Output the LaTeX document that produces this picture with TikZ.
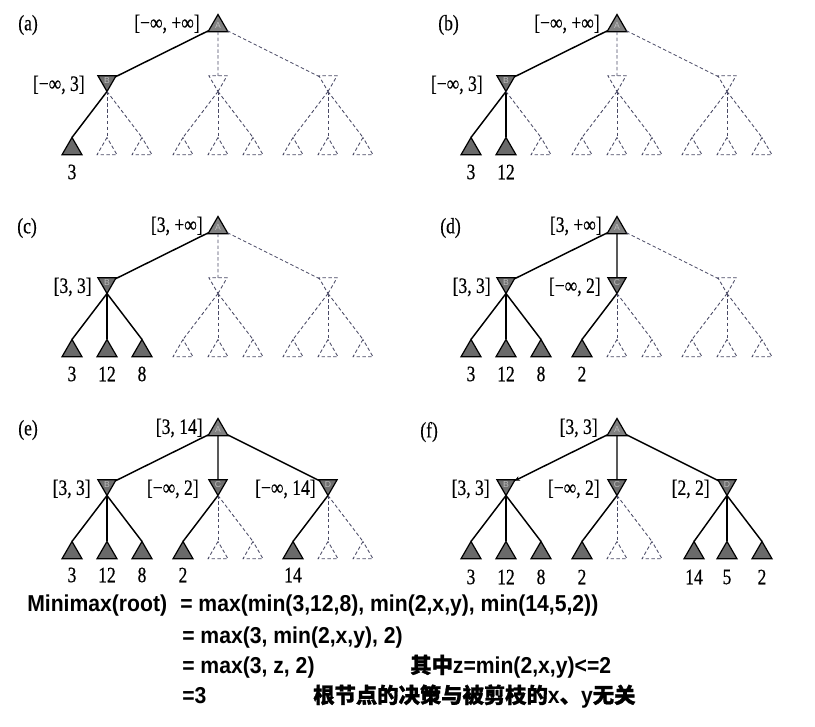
\documentclass[tikz,border=0pt]{standalone}
\usepackage{fontspec}
\setmainfont{Liberation Serif}[FakeStretch=0.8, FakeBold=0.4]
\newfontfamily\formfont{Liberation Sans}[FakeStretch=0.92]
\newfontfamily\cjkfont{Noto Sans CJK SC}[FakeBold=1.2]
\newfontfamily\letterfont{Liberation Sans}
\usetikzlibrary{shapes.geometric,arrows.meta}
\definecolor{nodegray}{HTML}{808080}
\definecolor{cgray}{HTML}{6E6E6E}
\definecolor{leafgray}{HTML}{6A6A6A}
\definecolor{dashcol}{HTML}{4A4A66}
\definecolor{lettercol}{HTML}{BDBDBD}
\newcommand\lblfont{\fontsize{16.5pt}{17pt}\selectfont}
\newcommand\eqfont{\formfont\bfseries\fontsize{17.25pt}{18pt}\selectfont}
\newcommand\cj[1]{{\cjkfont\fontsize{16pt}{18pt}\selectfont #1}}
\tikzset{
  tri/.style={regular polygon, regular polygon sides=3, inner sep=0pt, outer sep=0pt,
    minimum size=17.3pt, line width=0.9pt, draw=black,
    font=\letterfont\fontsize{6.5pt}{6.5pt}\selectfont, text=lettercol},
  maxn/.style={tri, fill=nodegray},
  minn/.style={tri, minimum size=15.75pt, shape border rotate=180, fill=cgray},
  leafn/.style={tri, fill=leafgray},
  dmin/.style={tri, minimum size=15.75pt, shape border rotate=180, draw=dashcol,
    line width=0.65pt, dash pattern=on 2.6pt off 1.8pt, fill=none},
  dleaf/.style={tri, draw=dashcol, line width=0.65pt, dash pattern=on 2.6pt off 1.8pt, fill=none},
  sol/.style={line width=1.1pt, draw=black},
  dsh/.style={line width=0.65pt, draw=dashcol, dash pattern=on 2.6pt off 1.8pt},
  lbl/.style={font=\lblfont, inner sep=0pt, text=black},
  eq/.style={font=\eqfont, inner sep=0pt, anchor=base west, text=black},
}
\begin{document}
\begin{tikzpicture}[x=0.75pt,y=-0.75pt]
\path[use as bounding box, fill=white] (0,0) rectangle (815,726);

% ---------- panel labels
\node[lbl, anchor=west] (pa) at (18,25) {(a)};
\node[lbl, anchor=west] (pb) at (438,25) {(b)};
\node[lbl, anchor=west] (pc) at (17,228) {(c)};
\node[lbl, anchor=west] (pd) at (440,228) {(d)};
\node[lbl, anchor=west] (pe) at (18,430) {(e)};
\node[lbl, anchor=west] (pf) at (420,432) {(f)};

% ---------- (a)
\begin{scope}[shift={(218,26)}]
\node[maxn] (aA) at (0,0) {A};
\node[lbl, anchor=east] (aAl) at (-18,-2) {[−∞, +∞]};
\node[minn] (aB) at (-111,55) {B};
\node[lbl, anchor=east] (aBl) at (-133,59) {[−∞, 3]};
\node[dmin] (aC) at (0,55) {};
\node[dmin] (aD) at (110,55) {};
\node[leafn] (aB1) at (-146,123) {};
\node[dleaf] (aB2) at (-111,123) {};
\node[dleaf] (aB3) at (-76,123) {};
\node[dleaf] (aC1) at (-35,123) {};
\node[dleaf] (aC2) at (0,123) {};
\node[dleaf] (aC3) at (35,123) {};
\node[dleaf] (aD1) at (75,123) {};
\node[dleaf] (aD2) at (110,123) {};
\node[dleaf] (aD3) at (145,123) {};
\node[lbl] (aB1v) at (-146,146) {3};
\draw[sol] (aA) -- (aB);
\draw[dsh] (aA) -- (aC);
\draw[dsh] (aA) -- (aD);
\draw[sol] (aB.corner 1) -- (aB1.corner 1);
\draw[dsh] (aB.corner 1) -- (aB2.corner 1);
\draw[dsh] (aB.corner 1) -- (aB3.corner 1);
\draw[dsh] (aC.corner 1) -- (aC1.corner 1);
\draw[dsh] (aC.corner 1) -- (aC2.corner 1);
\draw[dsh] (aC.corner 1) -- (aC3.corner 1);
\draw[dsh] (aD.corner 1) -- (aD1.corner 1);
\draw[dsh] (aD.corner 1) -- (aD2.corner 1);
\draw[dsh] (aD.corner 1) -- (aD3.corner 1);
\end{scope}

% ---------- (b)
\begin{scope}[shift={(617,26)}]
\node[maxn] (bA) at (0,0) {A};
\node[lbl, anchor=east] (bAl) at (-17,-2) {[−∞, +∞]};
\node[minn] (bB) at (-111,55) {B};
\node[lbl, anchor=east] (bBl) at (-134,59) {[−∞, 3]};
\node[dmin] (bC) at (0,55) {};
\node[dmin] (bD) at (110,55) {};
\node[leafn] (bB1) at (-146,123) {};
\node[leafn] (bB2) at (-111,123) {};
\node[dleaf] (bB3) at (-76,123) {};
\node[dleaf] (bC1) at (-35,123) {};
\node[dleaf] (bC2) at (0,123) {};
\node[dleaf] (bC3) at (35,123) {};
\node[dleaf] (bD1) at (75,123) {};
\node[dleaf] (bD2) at (110,123) {};
\node[dleaf] (bD3) at (145,123) {};
\node[lbl] (bB1v) at (-146,146) {3};
\node[lbl] (bB2v) at (-111,146) {12};
\draw[sol] (bA) -- (bB);
\draw[dsh] (bA) -- (bC);
\draw[dsh] (bA) -- (bD);
\draw[sol] (bB.corner 1) -- (bB1.corner 1);
\draw[sol] (bB.corner 1) -- (bB2.corner 1);
\draw[dsh] (bB.corner 1) -- (bB3.corner 1);
\draw[dsh] (bC.corner 1) -- (bC1.corner 1);
\draw[dsh] (bC.corner 1) -- (bC2.corner 1);
\draw[dsh] (bC.corner 1) -- (bC3.corner 1);
\draw[dsh] (bD.corner 1) -- (bD1.corner 1);
\draw[dsh] (bD.corner 1) -- (bD2.corner 1);
\draw[dsh] (bD.corner 1) -- (bD3.corner 1);
\end{scope}

% ---------- (c)
\begin{scope}[shift={(218,228)}]
\node[maxn] (cA) at (0,0) {A};
\node[lbl, anchor=east] (cAl) at (-15,-2) {[3, +∞]};
\node[minn] (cB) at (-111,55) {B};
\node[lbl, anchor=east] (cBl) at (-126,59) {[3, 3]};
\node[dmin] (cC) at (0,55) {};
\node[dmin] (cD) at (110,55) {};
\node[leafn] (cB1) at (-146,123) {};
\node[leafn] (cB2) at (-111,123) {};
\node[leafn] (cB3) at (-76,123) {};
\node[dleaf] (cC1) at (-35,123) {};
\node[dleaf] (cC2) at (0,123) {};
\node[dleaf] (cC3) at (35,123) {};
\node[dleaf] (cD1) at (75,123) {};
\node[dleaf] (cD2) at (110,123) {};
\node[dleaf] (cD3) at (145,123) {};
\node[lbl] (cB1v) at (-146,146) {3};
\node[lbl] (cB2v) at (-111,146) {12};
\node[lbl] (cB3v) at (-76,146) {8};
\draw[sol] (cA) -- (cB);
\draw[dsh] (cA) -- (cC);
\draw[dsh] (cA) -- (cD);
\draw[sol] (cB.corner 1) -- (cB1.corner 1);
\draw[sol] (cB.corner 1) -- (cB2.corner 1);
\draw[sol] (cB.corner 1) -- (cB3.corner 1);
\draw[dsh] (cC.corner 1) -- (cC1.corner 1);
\draw[dsh] (cC.corner 1) -- (cC2.corner 1);
\draw[dsh] (cC.corner 1) -- (cC3.corner 1);
\draw[dsh] (cD.corner 1) -- (cD1.corner 1);
\draw[dsh] (cD.corner 1) -- (cD2.corner 1);
\draw[dsh] (cD.corner 1) -- (cD3.corner 1);
\end{scope}

% ---------- (d)
\begin{scope}[shift={(617,228)}]
\node[maxn] (dA) at (0,0) {A};
\node[lbl, anchor=east] (dAl) at (-15,-2) {[3, +∞]};
\node[minn] (dB) at (-111,55) {B};
\node[lbl, anchor=east] (dBl) at (-126,59) {[3, 3]};
\node[minn] (dC) at (0,55) {C};
\node[lbl, anchor=east] (dCl) at (-16,59) {[−∞, 2]};
\node[dmin] (dD) at (110,55) {};
\node[leafn] (dB1) at (-146,123) {};
\node[leafn] (dB2) at (-111,123) {};
\node[leafn] (dB3) at (-76,123) {};
\node[leafn] (dC1) at (-35,123) {};
\node[dleaf] (dC2) at (0,123) {};
\node[dleaf] (dC3) at (35,123) {};
\node[dleaf] (dD1) at (75,123) {};
\node[dleaf] (dD2) at (110,123) {};
\node[dleaf] (dD3) at (145,123) {};
\node[lbl] (dB1v) at (-146,146) {3};
\node[lbl] (dB2v) at (-111,146) {12};
\node[lbl] (dB3v) at (-76,146) {8};
\node[lbl] (dC1v) at (-35,146) {2};
\draw[sol] (dA) -- (dB);
\draw[sol] (dA) -- (dC);
\draw[dsh] (dA) -- (dD);
\draw[sol] (dB.corner 1) -- (dB1.corner 1);
\draw[sol] (dB.corner 1) -- (dB2.corner 1);
\draw[sol] (dB.corner 1) -- (dB3.corner 1);
\draw[sol] (dC.corner 1) -- (dC1.corner 1);
\draw[dsh] (dC.corner 1) -- (dC2.corner 1);
\draw[dsh] (dC.corner 1) -- (dC3.corner 1);
\draw[dsh] (dD.corner 1) -- (dD1.corner 1);
\draw[dsh] (dD.corner 1) -- (dD2.corner 1);
\draw[dsh] (dD.corner 1) -- (dD3.corner 1);
\end{scope}

% ---------- (e)
\begin{scope}[shift={(218,430)}]
\node[maxn] (eA) at (0,0) {A};
\node[lbl, anchor=east] (eAl) at (-15,-2) {[3, 14]};
\node[minn] (eB) at (-111,55) {B};
\node[lbl, anchor=east] (eBl) at (-127,59) {[3, 3]};
\node[minn] (eC) at (0,55) {C};
\node[lbl, anchor=east] (eCl) at (-19,59) {[−∞, 2]};
\node[minn] (eD) at (110,55) {D};
\node[lbl, anchor=east] (eDl) at (98,59) {[−∞, 14]};
\node[leafn] (eB1) at (-146,123) {};
\node[leafn] (eB2) at (-111,123) {};
\node[leafn] (eB3) at (-76,123) {};
\node[leafn] (eC1) at (-35,123) {};
\node[dleaf] (eC2) at (0,123) {};
\node[dleaf] (eC3) at (35,123) {};
\node[leafn] (eD1) at (75,123) {};
\node[dleaf] (eD2) at (110,123) {};
\node[dleaf] (eD3) at (145,123) {};
\node[lbl] (eB1v) at (-146,145) {3};
\node[lbl] (eB2v) at (-111,145) {12};
\node[lbl] (eB3v) at (-76,145) {8};
\node[lbl] (eC1v) at (-35,145) {2};
\node[lbl] (eD1v) at (75,145) {14};
\draw[sol] (eA) -- (eB);
\draw[sol] (eA) -- (eC);
\draw[sol] (eA) -- (eD);
\draw[sol] (eB.corner 1) -- (eB1.corner 1);
\draw[sol] (eB.corner 1) -- (eB2.corner 1);
\draw[sol] (eB.corner 1) -- (eB3.corner 1);
\draw[sol] (eC.corner 1) -- (eC1.corner 1);
\draw[dsh] (eC.corner 1) -- (eC2.corner 1);
\draw[dsh] (eC.corner 1) -- (eC3.corner 1);
\draw[sol] (eD.corner 1) -- (eD1.corner 1);
\draw[dsh] (eD.corner 1) -- (eD2.corner 1);
\draw[dsh] (eD.corner 1) -- (eD3.corner 1);
\end{scope}

% ---------- (f)
\begin{scope}[shift={(617,430)}]
\node[maxn] (fA) at (0,0) {A};
\node[lbl, anchor=east] (fAl) at (-19,-2) {[3, 3]};
\node[minn] (fB) at (-111,55) {B};
\node[lbl, anchor=east] (fBl) at (-127,59) {[3, 3]};
\node[minn] (fC) at (0,55) {C};
\node[lbl, anchor=east] (fCl) at (-17,59) {[−∞, 2]};
\node[minn] (fD) at (110,55) {D};
\node[lbl, anchor=east] (fDl) at (93,59) {[2, 2]};
\node[leafn] (fB1) at (-146,123) {};
\node[leafn] (fB2) at (-111,123) {};
\node[leafn] (fB3) at (-76,123) {};
\node[leafn] (fC1) at (-35,123) {};
\node[dleaf] (fC2) at (0,123) {};
\node[dleaf] (fC3) at (35,123) {};
\node[leafn] (fD1) at (77,123) {};
\node[leafn] (fD2) at (110,123) {};
\node[leafn] (fD3) at (145,123) {};
\node[lbl] (fB1v) at (-146,147) {3};
\node[lbl] (fB2v) at (-111,147) {12};
\node[lbl] (fB3v) at (-76,147) {8};
\node[lbl] (fC1v) at (-35,147) {2};
\node[lbl] (fD1v) at (77,147) {14};
\node[lbl] (fD2v) at (110,147) {5};
\node[lbl] (fD3v) at (145,147) {2};
\draw[sol, -{Stealth[length=4pt,width=3.5pt]}] (fA) -- (fB);
\draw[sol] (fA) -- (fC);
\draw[sol] (fA) -- (fD);
\draw[sol] (fB.corner 1) -- (fB1.corner 1);
\draw[sol] (fB.corner 1) -- (fB2.corner 1);
\draw[sol] (fB.corner 1) -- (fB3.corner 1);
\draw[sol] (fC.corner 1) -- (fC1.corner 1);
\draw[dsh] (fC.corner 1) -- (fC2.corner 1);
\draw[dsh] (fC.corner 1) -- (fC3.corner 1);
\draw[sol] (fD.corner 1) -- (fD1.corner 1);
\draw[sol] (fD.corner 1) -- (fD2.corner 1);
\draw[sol] (fD.corner 1) -- (fD3.corner 1);
\end{scope}

% ---------- formula
\node[eq] (e1a) at (27,611) {Minimax(root)};
\node[eq] (e1b) at (180,611) {= max(min(3,12,8), min(2,x,y), min(14,5,2))};
\node[eq] (e2) at (182,643) {= max(3, min(2,x,y), 2)};
\node[eq] (e3a) at (182,673) {= max(3, z, 2)};
\node[eq] (e3b) at (410,673) {\cj{其中}z=min(2,x,y)<=2};
\node[eq] (e4a) at (182,703) {=3};
\node[eq] (e4b) at (313,703) {\cj{根节点的决策与被剪枝的}x\cj{、}y\cj{无关}};
\end{tikzpicture}
\end{document}
